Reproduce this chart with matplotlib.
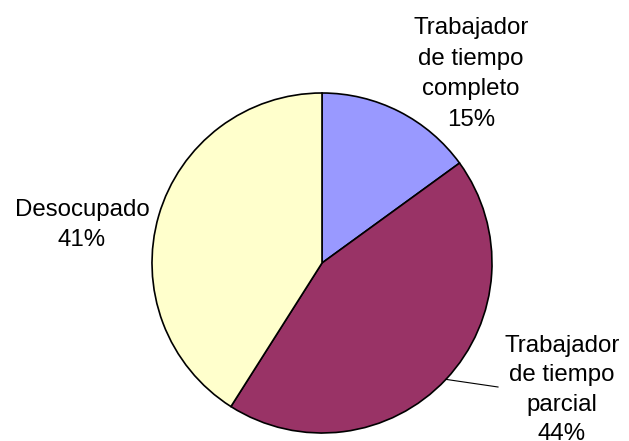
import numpy as np
import matplotlib.pyplot as plt

plt.rcParams['font.family'] = ['Liberation Sans', 'DejaVu Sans']

labels = ["Trabajador\nde tiempo\ncompleto", "Trabajador\nde tiempo\nparcial", "Desocupado"]
values = [15, 44, 41]
colors = ["#9999FF", "#993366", "#FFFFCC"]

W, H = 629, 441
fig = plt.figure(figsize=(W / 100, H / 100), dpi=100)
ax = fig.add_axes([0, 0, 1, 1])

cx, cy, r = 322, H - 263, 170
wedges, _ = ax.pie(values, colors=colors, startangle=90, counterclock=False,
                   center=(cx, cy), radius=r, frame=True,
                   wedgeprops=dict(edgecolor='black', linewidth=1.2))
ax.set_xlim(0, W)
ax.set_ylim(0, H)
ax.set_aspect('equal')
ax.axis('off')

fs = 17.3
txt = [f"{l}\n{v}%" for l, v in zip(labels, values)]
# label centres, pixels from top
pos = [(471, 74), (562, 390), (82, 225)]
spacing = [1.52, 1.45, 1.52]
for t, (x, y), ls in zip(txt, pos, spacing):
    ax.text(x, H - y, t, ha='center', va='center', fontsize=fs, linespacing=ls)

# leader line for the 44% slice
w = wedges[1]
mid = np.deg2rad((w.theta1 + w.theta2) / 2)
ax.plot([cx + r * np.cos(mid), 498], [cy + r * np.sin(mid), H - 387],
        color='black', linewidth=0.8)

fig.savefig("out.png", dpi=100)
